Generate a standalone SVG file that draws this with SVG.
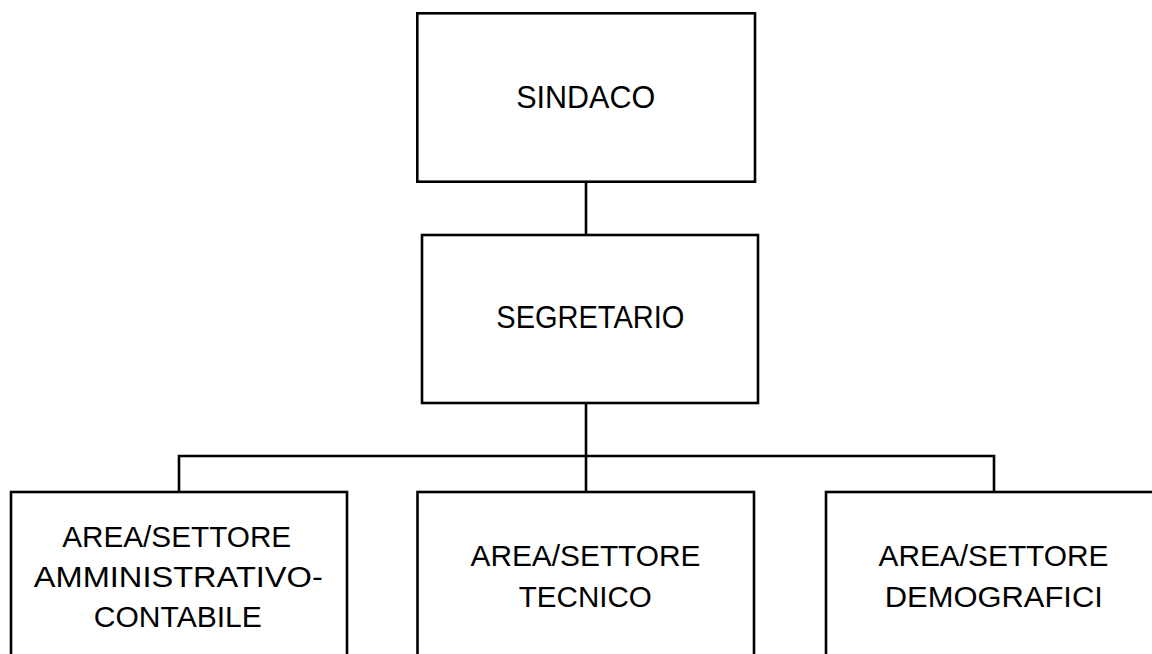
<svg xmlns="http://www.w3.org/2000/svg" width="1152" height="654" viewBox="0 0 1152 654">
  <style>
    .box { fill: #ffffff; stroke: #000000; stroke-width: 2.6; }
    .conn { fill: none; stroke: #000000; stroke-width: 2.6; }
    .lbl { font-family: "Liberation Sans", Arial, sans-serif; fill: #000000; text-anchor: middle; }
    .big { font-size: 31.5px; }
    .sm { font-size: 30px; }
  </style>
  <rect width="1152" height="654" fill="#ffffff"/>
  <g id="connectors">
    <line class="conn" x1="586" y1="182" x2="586" y2="235"/>
    <line class="conn" x1="586" y1="403" x2="586" y2="492"/>
    <polyline class="conn" points="179,492 179,456 994,456 994,492"/>
  </g>
  <g id="node-sindaco">
    <rect class="box" x="417.3" y="13.3" width="337.7" height="168.4"/>
    <text class="lbl big" x="585.7" y="107.7" textLength="139" lengthAdjust="spacingAndGlyphs">SINDACO</text>
  </g>
  <g id="node-segretario">
    <rect class="box" x="422" y="235" width="336" height="168"/>
    <text class="lbl big" x="590.3" y="328.3" textLength="188" lengthAdjust="spacingAndGlyphs">SEGRETARIO</text>
  </g>
  <g id="node-amministrativo">
    <rect class="box" x="11" y="492" width="336" height="180"/>
    <text class="lbl sm" x="176.7" y="546.7" textLength="229" lengthAdjust="spacingAndGlyphs">AREA/SETTORE</text>
    <text class="lbl sm" x="178.3" y="586.7" textLength="289" lengthAdjust="spacingAndGlyphs">AMMINISTRATIVO-</text>
    <text class="lbl sm" x="177.8" y="626.7" textLength="168" lengthAdjust="spacingAndGlyphs">CONTABILE</text>
  </g>
  <g id="node-tecnico">
    <rect class="box" x="417.5" y="492" width="336.5" height="180"/>
    <text class="lbl sm" x="585.5" y="566" textLength="230" lengthAdjust="spacingAndGlyphs">AREA/SETTORE</text>
    <text class="lbl sm" x="585.3" y="606.7" textLength="133" lengthAdjust="spacingAndGlyphs">TECNICO</text>
  </g>
  <g id="node-demografici">
    <rect class="box" x="826" y="492" width="336" height="180"/>
    <text class="lbl sm" x="993.5" y="566" textLength="230" lengthAdjust="spacingAndGlyphs">AREA/SETTORE</text>
    <text class="lbl sm" x="993.8" y="607.3" textLength="218" lengthAdjust="spacingAndGlyphs">DEMOGRAFICI</text>
  </g>
</svg>
